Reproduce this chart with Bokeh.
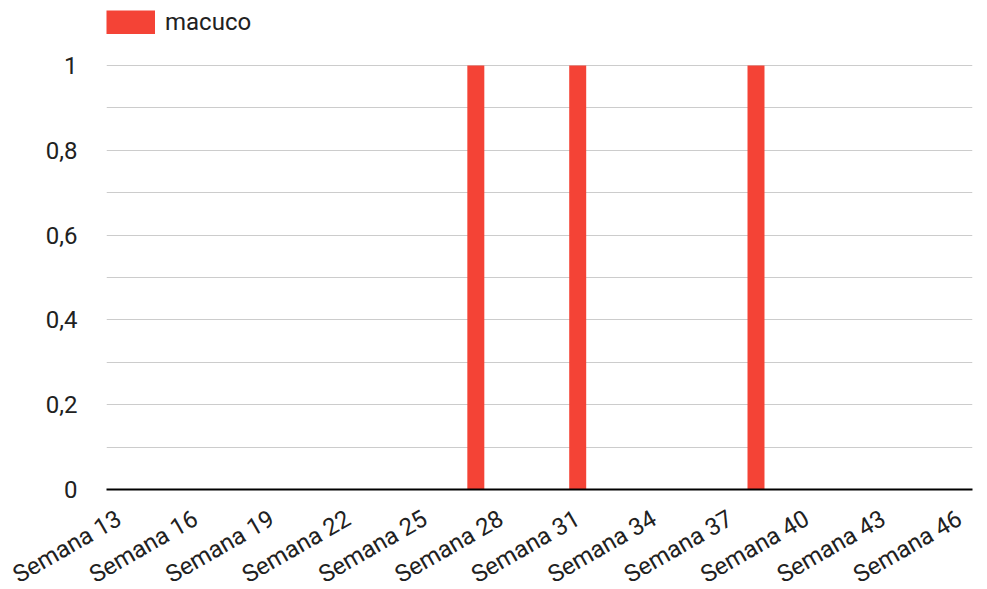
import math
from bokeh.plotting import figure
from bokeh.models import (ColumnDataSource, Range1d, FixedTicker,
                          CustomJSTickFormatter, Legend, LegendItem)
from bokeh.embed import file_html
from bokeh.resources import INLINE

weeks = list(range(13, 47))
categories = [f"Semana {w}" for w in weeks]
macuco = [0] * len(weeks)
for w in (27, 31, 38):
    macuco[weeks.index(w)] = 1
label_every = 3
y_ticks = [0, 0.2, 0.4, 0.6, 0.8, 1]
y_minor = [0.1, 0.3, 0.5, 0.7, 0.9]

FONT = "Roboto"
RED = "#f44336"
TXT = "#212121"
FS = "24px"

idx = list(range(len(categories)))
src = ColumnDataSource(dict(x=idx, y=macuco, cat=categories))

frame_top = 8
frame_bottom = 490
bottom_panel = 113
H = frame_bottom + bottom_panel
ymax = 1 + (65 - frame_top) / (frame_bottom - 65)

p = figure(width=980, height=H, x_range=Range1d(-0.5, len(categories) - 0.5),
           y_range=Range1d(0, ymax), output_backend="svg",
           toolbar_location=None, min_border_left=106, min_border_right=8,
           min_border_top=frame_top, min_border_bottom=bottom_panel)
p.outline_line_color = None

r = p.vbar(x="x", top="y", width=0.667, source=src, color=RED, line_color=None)
# legend swatch: a thick line (no visible data) draws as a plain filled rectangle
nan = float("nan")
sw = p.line(x=[nan], y=[nan], line_color=RED, line_width=24, line_cap="butt")

# y axis
p.yaxis.ticker = FixedTicker(ticks=y_ticks, minor_ticks=y_minor)
p.yaxis.formatter = CustomJSTickFormatter(code="return tick.toString().replace('.', ',');")
p.yaxis.axis_line_color = None
p.yaxis.major_tick_line_color = None
p.yaxis.minor_tick_line_color = None
p.yaxis.major_tick_out = 0
p.yaxis.major_tick_in = 0
p.yaxis.major_label_text_font = FONT
p.yaxis.major_label_text_font_size = FS
p.yaxis.major_label_text_color = TXT
p.yaxis.major_label_standoff = 25

p.ygrid.ticker = FixedTicker(ticks=y_ticks[1:], minor_ticks=y_minor)
p.ygrid.grid_line_color = "#cccccc"
p.ygrid.grid_line_width = 1
p.ygrid.minor_grid_line_color = "#cccccc"
p.xgrid.grid_line_color = None

# x axis
xt = idx[::label_every]
p.xaxis.ticker = FixedTicker(ticks=xt, minor_ticks=[])
p.xaxis.major_label_overrides = {i: categories[i] for i in xt}
p.xaxis.axis_line_color = "#000000"
p.xaxis.axis_line_width = 2
p.xaxis.major_tick_line_color = None
p.xaxis.minor_tick_line_color = None
p.xaxis.major_tick_out = 0
p.xaxis.major_tick_in = 0
p.xaxis.major_label_orientation = math.pi / 6
p.xaxis.major_label_text_font = FONT
p.xaxis.major_label_text_font_size = FS
p.xaxis.major_label_text_color = TXT
p.xaxis.major_label_standoff = 27

legend = Legend(items=[LegendItem(label="macuco", renderers=[sw])],
                location="top_left", orientation="horizontal",
                glyph_width=49, glyph_height=24, label_standoff=10,
                padding=0, margin=0, spacing=0,
                border_line_color=None, background_fill_alpha=0,
                label_text_font=FONT, label_text_font_size=FS,
                label_text_color=TXT, label_height=24)
p.add_layout(legend)

open("out.html", "w").write(file_html(p, INLINE))
